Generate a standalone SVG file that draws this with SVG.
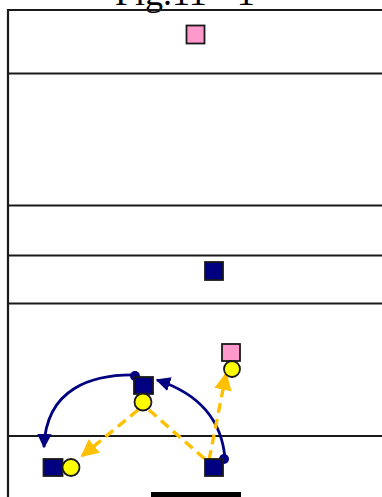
<svg xmlns="http://www.w3.org/2000/svg" width="382" height="497" viewBox="0 0 382 497">
<defs>
<style>
.frame{stroke:#1a1a1a;stroke-width:2.2;fill:none}
.sq{stroke:#1a1a1a;stroke-width:1.8}
.pink{fill:#FF99CC}
.navy{fill:#000080}
.dot{fill:#FFFF00;stroke:#1a1a1a;stroke-width:1.8}
.nav{stroke:#000080;stroke-width:2.8;fill:none}
.gold{stroke:#FFC000;stroke-width:3.4;fill:none;stroke-dasharray:10 6}
</style>
<marker id="ah-navy" viewBox="0 0 10 10" refX="9" refY="5" markerWidth="5.2" markerHeight="5.2" orient="auto" markerUnits="strokeWidth">
<path d="M0,0 L10,5 L0,10 z" fill="#000080"/>
</marker>
<marker id="ah-gold" viewBox="0 0 10 10" refX="9" refY="5" markerWidth="5.2" markerHeight="5.2" orient="auto" markerUnits="strokeWidth">
<path d="M0,0 L10,5 L0,10 z" fill="#FFC000"/>
</marker>
</defs>
<rect width="382" height="497" fill="#ffffff"/>
<text x="115" y="5" font-family="'Liberation Serif', serif" font-size="36" fill="#000">Fig.11 - 1</text>
<g id="frame">
<path class="frame" d="M8,497 V10 H382"/>
<path class="frame" d="M8,73.5 H382 M8,205.5 H382 M8,255.5 H382 M8,303.5 H382 M8,436 H382"/>
</g>
<g id="connectors">
<path class="nav" d="M137,375 C92,374 46,388 44,447" marker-end="url(#ah-navy)"/>
<path class="nav" d="M225,459 C222,420 200,394 157,380" marker-end="url(#ah-navy)"/>
<path class="gold" d="M138,410 L82,456" marker-end="url(#ah-gold)"/>
<path class="gold" d="M149,410 L206,460"/>
<path class="gold" d="M209,460 L226,374" marker-end="url(#ah-gold)"/>
<circle cx="135" cy="376" r="5" fill="#000080"/>
<circle cx="224" cy="459" r="5" fill="#000080"/>
</g>
<g id="n-pink-top"><rect class="sq pink" x="186.5" y="25.5" width="18" height="18"/></g>
<g id="n-navy-mid"><rect class="sq navy" x="205" y="262" width="18" height="18"/></g>
<g id="n-pink-right"><rect class="sq pink" x="222" y="344" width="18" height="17"/><circle class="dot" cx="232" cy="369" r="8"/></g>
<g id="n-center"><rect class="sq navy" x="134" y="377" width="19" height="17"/><circle class="dot" cx="143" cy="402" r="8.5"/></g>
<g id="n-left"><rect class="sq navy" x="43.5" y="459" width="19" height="17"/><circle class="dot" cx="71" cy="467.5" r="8.5"/></g>
<g id="n-right"><rect class="sq navy" x="205" y="459" width="18" height="17"/></g>
<g id="bar"><rect x="151" y="492" width="90" height="6" fill="#000"/></g>
</svg>
